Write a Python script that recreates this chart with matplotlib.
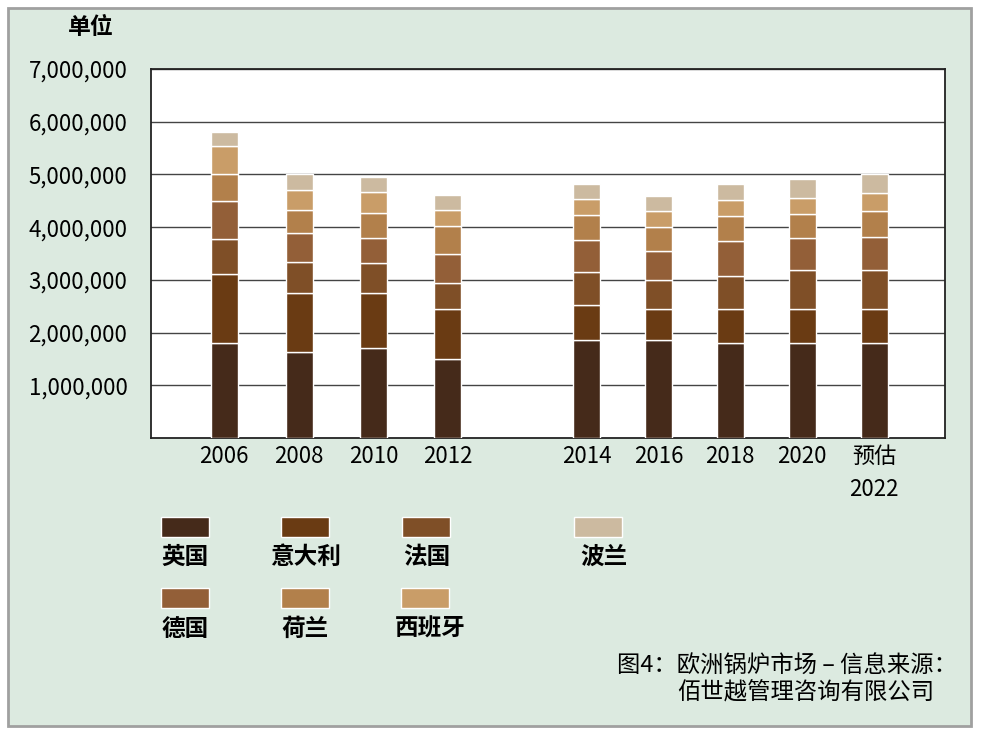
import matplotlib.pyplot as plt
from matplotlib.patches import Rectangle

plt.rcParams['font.family'] = ['Noto Sans CJK SC', 'DejaVu Sans']

# data (units), stacked bottom -> top
years = ["2006", "2008", "2010", "2012", "2014", "2016", "2018", "2020", "预估\n2022"]
countries = ["英国", "意大利", "法国", "德国", "荷兰", "西班牙", "波兰"]
uk          = [1800000, 1640000, 1710000, 1500000, 1860000, 1860000, 1800000, 1800000, 1800000]
italy       = [1320000, 1110000, 1040000,  950000,  660000,  590000,  640000,  650000,  650000]
france      = [ 660000,  590000,  570000,  490000,  620000,  550000,  640000,  730000,  730000]
germany     = [ 720000,  540000,  470000,  560000,  620000,  540000,  660000,  620000,  630000]
netherlands = [ 510000,  450000,  480000,  520000,  470000,  460000,  470000,  440000,  500000]
spain       = [ 520000,  380000,  390000,  310000,  300000,  300000,  310000,  320000,  340000]
poland      = [ 280000,  300000,  290000,  280000,  290000,  300000,  290000,  350000,  350000]
series = [uk, italy, france, germany, netherlands, spain, poland]
colors = ["#452a1a", "#6a3b13", "#7f4f27", "#935f38", "#b2804b", "#c99d68", "#ccbaa0"]

W, H = 982, 738
fig = plt.figure(figsize=(W / 100, H / 100), dpi=100)
fig.patch.set_facecolor("white")


def fx(px):
    return px / W


def fy(py):
    return 1 - py / H


# green panel with grey border
fig.patches.append(Rectangle((fx(8), fy(726)), fx(971) - fx(8), fy(8) - fy(726),
                             transform=fig.transFigure, facecolor="#dceae0",
                             edgecolor="#a0a0a0", lw=2, zorder=-10))

ax = fig.add_axes([fx(151), fy(438), fx(945) - fx(151), fy(69) - fy(438)])
ax.set_facecolor("white")

# bar layout (axis units = pixels from the left spine)
xpos = [73, 148, 222.5, 296.5, 435.5, 507.5, 579, 651, 723]
bottom = [0] * len(years)
for vals, c in zip(series, colors):
    ax.bar(xpos, vals, width=27, bottom=bottom, color=c, edgecolor="white",
           linewidth=1, zorder=3)
    bottom = [b + v for b, v in zip(bottom, vals)]

ax.set_xlim(0, 794)
ax.set_ylim(0, 7000000)
ax.set_yticks(range(1000000, 7000001, 1000000))
ax.set_yticklabels([f"{v:,}" for v in range(1000000, 7000001, 1000000)], fontsize=16)
ax.set_xticks(xpos)
ax.set_xticklabels(years, fontsize=16, linespacing=1.55, va="top")
ax.tick_params(axis="y", length=0, pad=17)
ax.tick_params(axis="x", length=0, pad=5)
ax.yaxis.grid(True, color="#444444", lw=1)
ax.set_axisbelow(True)
for s in ["left", "bottom", "top", "right"]:
    ax.spines[s].set_color("#222222")
    ax.spines[s].set_linewidth(1.3)

fig.text(fx(91), fy(27), "单位", ha="center", va="center", fontsize=16.5, weight="bold")

# legend: swatch above label
leg_x = [185, 305, 426, 598, 185, 305, 425]
leg_y = [527, 527, 527, 527, 598, 598, 598]
lab_x = [185, 305, 427, 604, 185, 305, 430]
lab_y = [557, 557, 557, 557, 629, 629, 629]
legend_order = [0, 1, 2, 6, 3, 4, 5]
for k, i in enumerate(legend_order):
    fig.patches.append(Rectangle((fx(leg_x[k] - 24), fy(leg_y[k] + 10)), fx(48), 20 / H,
                                 transform=fig.transFigure, facecolor=colors[i],
                                 edgecolor="white", lw=1, zorder=2))
    fig.text(fx(lab_x[k]), fy(lab_y[k]), countries[i], ha="center", va="center",
             fontsize=17, weight="bold")

fig.text(fx(617), fy(665), "图4：欧洲锅炉市场 – 信息来源：", ha="left", va="center", fontsize=16.8)
fig.text(fx(677), fy(692), "佰世越管理咨询有限公司", ha="left", va="center", fontsize=16.8)

fig.savefig("out.png", dpi=100, facecolor=fig.get_facecolor())
